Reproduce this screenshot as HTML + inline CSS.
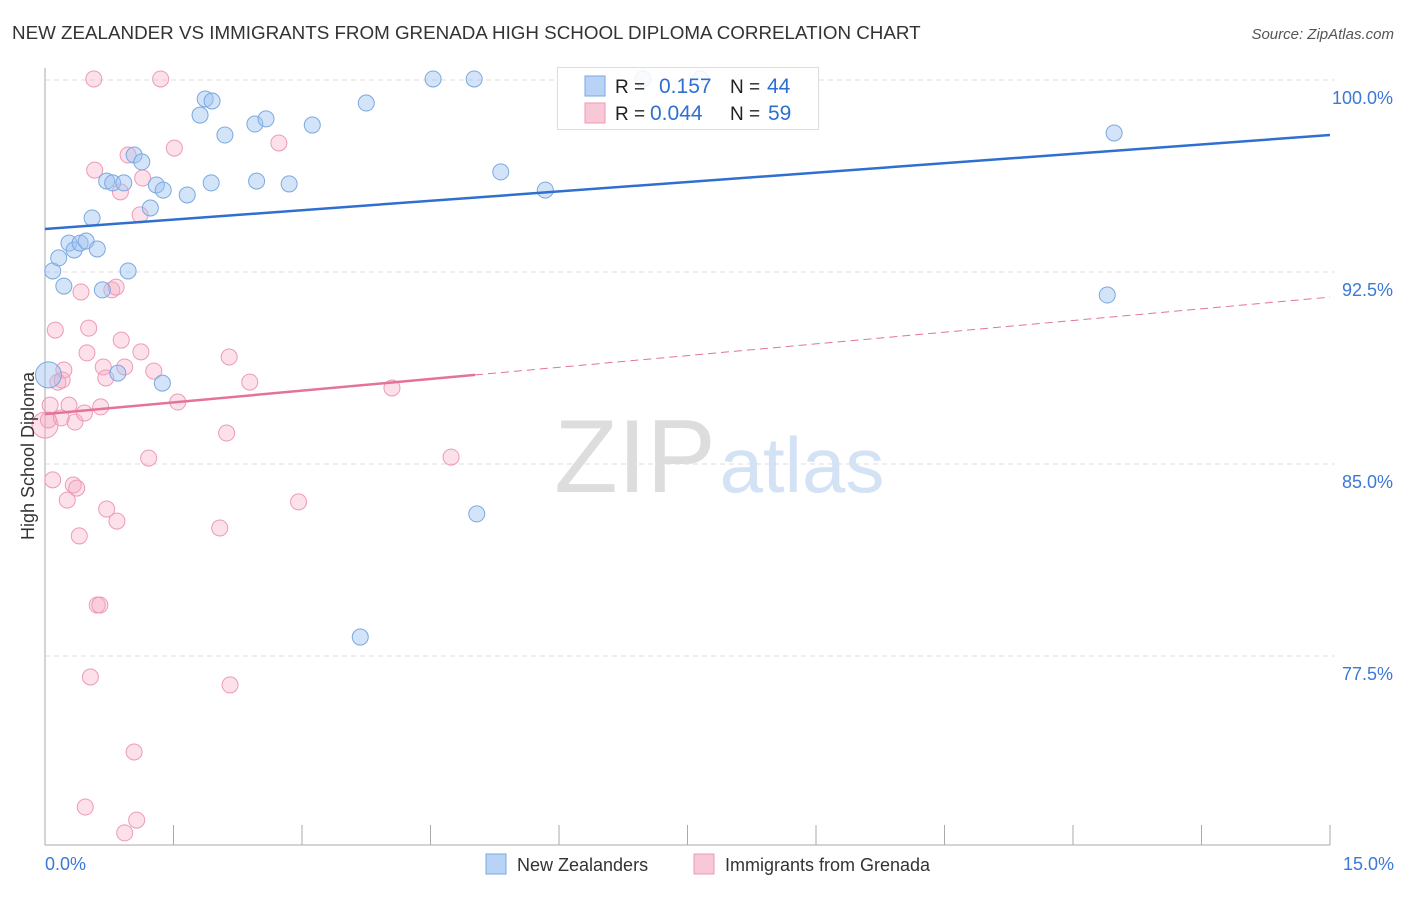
<!DOCTYPE html>
<html><head><meta charset="utf-8"><style>
body{margin:0;background:#fff;font-family:"Liberation Sans",sans-serif;}
svg text{font-family:"Liberation Sans",sans-serif;}
</style></head><body>
<svg id="chart" width="1406" height="892" xmlns="http://www.w3.org/2000/svg">
<text x="12" y="39" font-size="18.8" fill="#333">NEW ZEALANDER VS IMMIGRANTS FROM GRENADA HIGH SCHOOL DIPLOMA CORRELATION CHART</text>
<text x="1394" y="39" font-size="15" fill="#555" text-anchor="end" font-style="italic">Source: ZipAtlas.com</text>
<g>
<text x="635" y="492" font-size="104" fill="#ddd" text-anchor="middle" font-family="Liberation Serif">ZIP</text>
<text x="802" y="492" font-size="78" fill="#d3e2f5" text-anchor="middle">atlas</text>
</g>
<g id="grid"></g>
<g id="axes"></g>
<g id="marks"></g>
<text transform="translate(34,456) rotate(-90)" font-size="18" fill="#333" text-anchor="middle">High School Diploma</text>
<g>
<rect x="557.5" y="67.5" width="261" height="62" fill="rgba(255,255,255,0.85)" stroke="#ddd"/>
<rect x="585" y="76" width="20" height="20" fill="#b8d3f5" stroke="#7aa8e0"/>
<rect x="585" y="103" width="20" height="20" fill="#f9c8d7" stroke="#ee9ab5"/>
<text x="615" y="93" font-size="19" fill="#222">R =</text><text x="659" y="93" font-size="21" fill="#2f6fd0">0.157</text>
<text x="730" y="93" font-size="19" fill="#222">N =</text><text x="767" y="93" font-size="21" fill="#2f6fd0">44</text>
<text x="615" y="120" font-size="19" fill="#222">R =</text><text x="650" y="120" font-size="21" fill="#2f6fd0">0.044</text>
<text x="730" y="120" font-size="19" fill="#222">N =</text><text x="768" y="120" font-size="21" fill="#2f6fd0">59</text>
</g>
<g>
<rect x="486" y="854" width="20" height="20" fill="#b8d3f5" stroke="#7aa8e0"/>
<text x="517" y="871" font-size="18" fill="#333">New Zealanders</text>
<rect x="694" y="854" width="20" height="20" fill="#f9c8d7" stroke="#ee9ab5"/>
<text x="725" y="871" font-size="18" fill="#333">Immigrants from Grenada</text>
</g>
</svg>
<script>
const blueX=[0.04,0.09,0.16,0.22,0.28,0.34,0.41,0.48,0.55,0.61,0.67,0.72,0.79,0.85,0.92,0.97,1.04,1.13,1.23,1.30,1.38,1.66,1.81,1.87,1.95,1.94,2.10,2.45,2.47,2.58,2.85,3.12,1.37,3.68,3.75,4.53,5.01,5.04,5.32,5.84,12.40,12.48,6.98,7.65];
const blueY=[88.48,92.54,93.05,91.95,93.63,93.36,93.63,93.71,94.61,93.40,91.80,96.05,95.98,88.55,95.98,92.54,97.07,96.80,95.00,95.90,95.70,95.51,98.63,99.26,99.18,95.98,97.85,98.28,96.05,98.48,95.94,98.24,88.16,78.24,99.10,100.04,100.04,83.05,96.41,95.70,91.60,97.93,100.04,100.04];
const pinkX=[0.0,0.04,0.06,0.09,0.12,0.15,0.20,0.22,0.19,0.26,0.28,0.33,0.35,0.37,0.40,0.42,0.46,0.49,0.51,0.53,0.47,0.58,0.57,0.61,0.64,0.65,0.68,0.71,0.72,0.78,0.83,0.84,0.88,0.89,0.93,0.93,0.97,1.04,1.07,1.11,1.12,1.14,1.21,1.27,1.35,1.51,1.55,2.04,2.12,2.15,2.16,2.39,2.73,2.96,4.05,4.74];
const pinkY=[86.52,86.72,87.30,84.38,90.23,88.20,88.28,88.67,86.80,83.59,87.30,84.18,86.64,84.06,82.19,91.72,86.99,89.34,90.31,76.68,71.60,96.48,100.04,79.49,79.49,87.23,88.79,88.36,83.24,91.80,91.91,82.77,95.63,89.84,88.79,70.59,97.07,73.75,71.09,94.73,89.38,96.17,85.23,88.63,100.04,97.34,87.42,82.50,86.21,89.18,76.37,88.20,97.54,83.52,87.97,85.27];
const yTicks=[100,92.5,85,77.5];
const yTickLabels=["100.0%","92.5%","85.0%","77.5%"];
const xTickLabels=["0.0%","15.0%"];
const blueTrend=[94.18,97.85];
const pinkTrend=[86.95,91.52];
const pinkSolidEnd=5.02;

const NS="http://www.w3.org/2000/svg";
const X0=45,X1=1330,Y100=80,PPU=25.6;
function sx(v){return X0+(v/15)*(X1-X0);}
function sy(v){return Y100+(100-v)*PPU;}
function mk(tag,attrs,parent){const e=document.createElementNS(NS,tag);for(const k in attrs)e.setAttribute(k,attrs[k]);parent.appendChild(e);return e;}
const grid=document.getElementById('grid'),axes=document.getElementById('axes'),marks=document.getElementById('marks');
yTicks.forEach((t,i)=>{
  const l=mk('line',{x1:X0,x2:X1+5,y1:sy(t),y2:sy(t),stroke:'#ddd','stroke-dasharray':'5,4'},grid);
  
  
  const tx=mk('text',{x:1393,y:sy(t)+24,'font-size':18,fill:'#3b78d8','text-anchor':'end'},axes);
  tx.textContent=yTickLabels[i];
  
  
});
const ya=mk('line',{x1:X0,x2:X0,y1:68,y2:845,stroke:'#aaa'},axes);


const xa=mk('line',{x1:X0,x2:X1,y1:845,y2:845,stroke:'#aaa'},axes);


for(let i=0;i<=10;i++){
  const t=mk('line',{x1:sx(i*1.5),x2:sx(i*1.5),y1:825,y2:845,stroke:'#aaa'},axes);
  
  
}
const xl0=mk('text',{x:45,y:870,'font-size':18,fill:'#3b78d8'},axes);xl0.textContent=xTickLabels[0];


const xl1=mk('text',{x:1394,y:870,'font-size':18,fill:'#3b78d8','text-anchor':'end'},axes);xl1.textContent=xTickLabels[1];



function dots(xs,ys,fill,stroke,name){
  xs.forEach((x,i)=>{
    const r=(i===0)?13:8;
    const c=mk('circle',{cx:sx(x),cy:sy(ys[i]),r:r,fill:fill,stroke:stroke,'stroke-width':1},marks);
    
    
  });
}
dots(pinkX,pinkY,'rgba(245,170,195,0.35)','#ee9ab5','grenada-point');
dots(blueX,blueY,'rgba(160,195,240,0.45)','#7aa8e0','new-zealander-point');
const bt=mk('line',{x1:sx(0),y1:sy(blueTrend[0]),x2:sx(15),y2:sy(blueTrend[1]),stroke:'#2f6fd0','stroke-width':2.5},marks);


const pm=pinkTrend[0]+(pinkTrend[1]-pinkTrend[0])*pinkSolidEnd/15;
const pt=mk('line',{x1:sx(0),y1:sy(pinkTrend[0]),x2:sx(pinkSolidEnd),y2:sy(pm),stroke:'#e4739a','stroke-width':2.5},marks);


const pd=mk('line',{x1:sx(pinkSolidEnd),y1:sy(pm),x2:sx(15),y2:sy(pinkTrend[1]),stroke:'#e4739a','stroke-width':1,'stroke-dasharray':'8,5'},marks);


</script>
</body></html>
